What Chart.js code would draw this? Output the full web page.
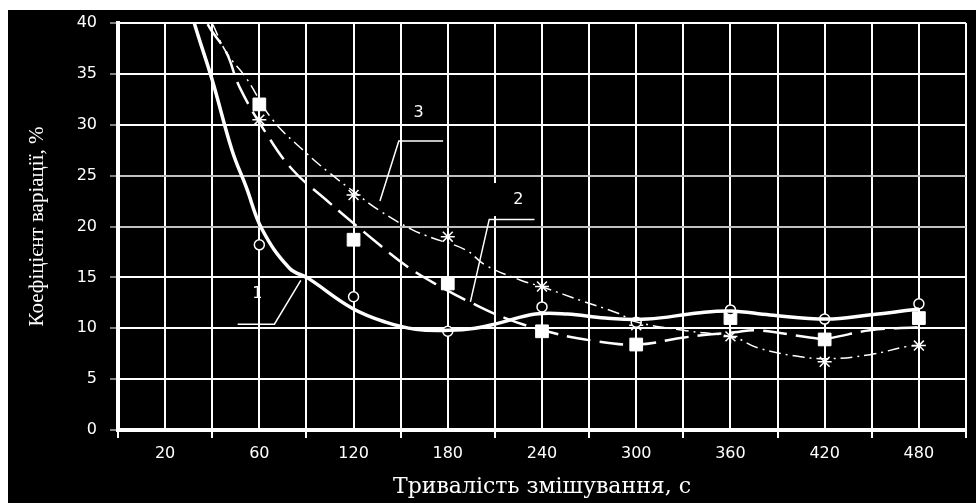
<!DOCTYPE html>
<html>
<head>
<meta charset="utf-8">
<script src="https://cdn.jsdelivr.net/npm/chart.js@4"></script>
<style>
  body { margin: 0; background: #fff; }
  #wrap { position: absolute; left: 8px; top: 10px; width: 968px; height: 493px; background: #000; }
</style>
</head>
<body>
<div id="wrap"><canvas id="myChart"></canvas></div>
<script>
const categories = ["20", "60", "120", "180", "240", "300", "360", "420", "480"];

// measured points (index = category)
const points1 = [null, 18.2, 13.1, 9.7, 12.1, 10.6, 11.8, 10.9, 12.4];
const points2 = [null, 32.0, 18.7, 14.4, 9.7, 8.4, 11.0, 8.9, 11.0];
const points3 = [null, 30.5, 23.1, 19.0, 14.1, 10.3, 9.2, 6.7, 8.3];

// fitted curves, x in category units
const curve1X = [0.7, 0.8, 1.0, 1.21, 1.36, 1.53, 1.82, 2.02, 2.48, 2.84, 3.16, 3.51, 3.79, 4.04, 4.43, 4.77, 5.17, 5.62, 6.15, 6.5, 6.92, 7.52, 7.97, 8.5];
const curve1Y = [44, 40.3, 34.4, 27.5, 23.9, 19.7, 15.9, 14.9, 12.0, 10.6, 9.9, 9.8, 10.0, 10.5, 11.4, 11.4, 11.0, 10.9, 11.5, 11.7, 11.3, 10.9, 11.3, 11.9];
const curve2X = [0.85, 0.94, 1.15, 1.29, 1.57, 1.85, 2.21, 2.71, 3.08, 3.42, 3.75, 4.11, 4.59, 5.02, 5.51, 6.01, 6.54, 6.78, 7.34, 7.52, 7.98, 8.5];
const curve2Y = [43, 40.1, 37.1, 33.7, 29.2, 25.6, 22.6, 18.7, 16.0, 14.1, 12.5, 11.0, 9.6, 8.8, 8.4, 9.1, 9.6, 9.8, 9.1, 9.0, 9.8, 10.1];
const curve3X = [0.9, 1.0, 1.15, 1.36, 1.64, 2.0, 2.24, 2.52, 2.77, 3.12, 3.33, 3.69, 3.9, 4.28, 4.49, 4.95, 5.3, 5.51, 6.0, 6.54, 6.78, 7.17, 7.52, 7.98, 8.37, 8.5];
const curve3Y = [42, 40.0, 37.1, 34.6, 30.5, 27.2, 25.3, 23.3, 21.6, 19.7, 18.9, 17.7, 16.2, 14.7, 14.1, 12.6, 11.5, 10.6, 9.8, 9.1, 8.1, 7.3, 7.0, 7.4, 8.2, 8.3];

// curve labels with leader lines
const curveLabels = [
  { text: "1", at: [1.48, 13.4], path: [[1.27, 10.4], [1.66, 10.4], [1.94, 14.7]] },
  { text: "2", at: [4.25, 22.6], path: [[4.42, 20.7], [3.94, 20.7], [3.74, 12.6]], box: true },
  { text: "3", at: [3.19, 31.2], path: [[3.45, 28.4], [2.98, 28.4], [2.78, 22.5]] },
];

const pts = (arr) => arr.map((v, i) => (v === null ? null : { x: i + 0.5, y: v })).filter((p) => p);
const curve = (xs, ys) => xs.map((x, i) => ({ x: x, y: ys[i] }));

const labelsPlugin = {
  id: "curveLabels",
  afterDatasetsDraw(chart) {
    const { ctx, scales } = chart;
    const sx = scales.x, sy = scales.y;
    ctx.save();
    curveLabels.forEach((l) => {
      const tx = sx.getPixelForValue(l.at[0]);
      const ty = sy.getPixelForValue(l.at[1]);
      if (l.box) {
        ctx.fillStyle = "#000";
        ctx.fillRect(tx - 28, ty - 17, 50, 33);
      }
      ctx.strokeStyle = "#fff";
      ctx.lineWidth = 1.5;
      ctx.beginPath();
      l.path.forEach((p, i) => {
        const px = sx.getPixelForValue(p[0]);
        const py = sy.getPixelForValue(p[1]);
        if (i === 0) ctx.moveTo(px, py);
        else ctx.lineTo(px, py);
      });
      ctx.stroke();
      ctx.fillStyle = "#fff";
      ctx.font = "16px 'DejaVu Sans'";
      ctx.textAlign = "center";
      ctx.textBaseline = "middle";
      ctx.fillText(l.text, tx, ty);
    });
    ctx.restore();
  },
};

const config = {
  type: "line",
  data: {
    datasets: [
      {
        data: curve(curve1X, curve1Y),
        borderColor: "#fff",
        borderWidth: 3.5,
        pointRadius: 0,
        tension: 0.4,
      },
      {
        data: curve(curve2X, curve2Y),
        borderColor: "#fff",
        borderWidth: 2.5,
        borderDash: [24, 9],
        pointRadius: 0,
        tension: 0.4,
      },
      {
        data: curve(curve3X, curve3Y),
        borderColor: "#fff",
        borderWidth: 1.5,
        borderDash: [12, 5, 2, 5],
        pointRadius: 0,
        tension: 0.4,
      },
      {
        data: pts(points1),
        showLine: false,
        pointStyle: "circle",
        pointRadius: 5,
        borderColor: "#fff",
        backgroundColor: "#000",
        borderWidth: 1.5,
      },
      {
        data: pts(points2),
        showLine: false,
        pointStyle: "rect",
        pointRadius: 9,
        borderColor: "#fff",
        backgroundColor: "#fff",
        borderWidth: 1,
      },
      {
        data: pts(points3),
        showLine: false,
        pointStyle: "star",
        pointRadius: 7,
        borderColor: "#fff",
        borderWidth: 1.5,
      },
    ],
  },
  options: {
    responsive: true,
    maintainAspectRatio: false,
    animation: false,
    layout: { padding: { top: 13, right: 6, left: 0, bottom: 0 } },
    scales: {
      x: {
        type: "linear",
        min: 0,
        max: 9,
        afterFit(s) {
          s.height = 73;
          s.paddingLeft = 0;
          s.paddingRight = 0;
        },
        ticks: {
          stepSize: 0.5,
          autoSkip: false,
          maxRotation: 0,
          color: "#fff",
          padding: 6,
          font: { family: "'DejaVu Sans'", size: 16 },
          callback: function (val) {
            return val % 1 === 0.5 ? categories[Math.floor(val)] : "";
          },
        },
        grid: {
          color: "#fff",
          lineWidth: 2,
          tickLength: 8,
          tickColor: (c) => (c.tick && c.tick.value % 1 === 0 ? "#fff" : "rgba(0,0,0,0)"),
        },
        border: { color: "#fff", width: 4 },
        title: {
          display: true,
          text: "Тривалість змішування, с",
          color: "#fff",
          font: { family: "'DejaVu Serif'", size: 22 },
          padding: { top: 0, bottom: 3 },
        },
      },
      y: {
        min: 0,
        max: 40,
        afterFit(s) {
          s.width = 110;
          s.paddingTop = 0;
          s.paddingBottom = 0;
        },
        ticks: {
          stepSize: 5,
          color: "#fff",
          padding: 13,
          font: { family: "'DejaVu Sans'", size: 16 },
        },
        grid: {
          color: (c) => (c.tick && (c.tick.value === 20 || c.tick.value === 25) ? "#c0c0c0" : "#fff"),
          lineWidth: 2,
          tickLength: 8,
          tickColor: "#fff",
          tickWidth: 1,
        },
        border: { color: "#fff", width: 4 },
        title: {
          display: true,
          text: "Коефіцієнт варіації, %",
          color: "#fff",
          font: { family: "'Liberation Serif'", size: 21 },
          padding: { top: 17, bottom: 0 },
        },
      },
    },
    plugins: {
      legend: { display: false },
      tooltip: { enabled: false },
    },
  },
  plugins: [labelsPlugin],
};

new Chart(document.getElementById("myChart"), config);
</script>
</body>
</html>
